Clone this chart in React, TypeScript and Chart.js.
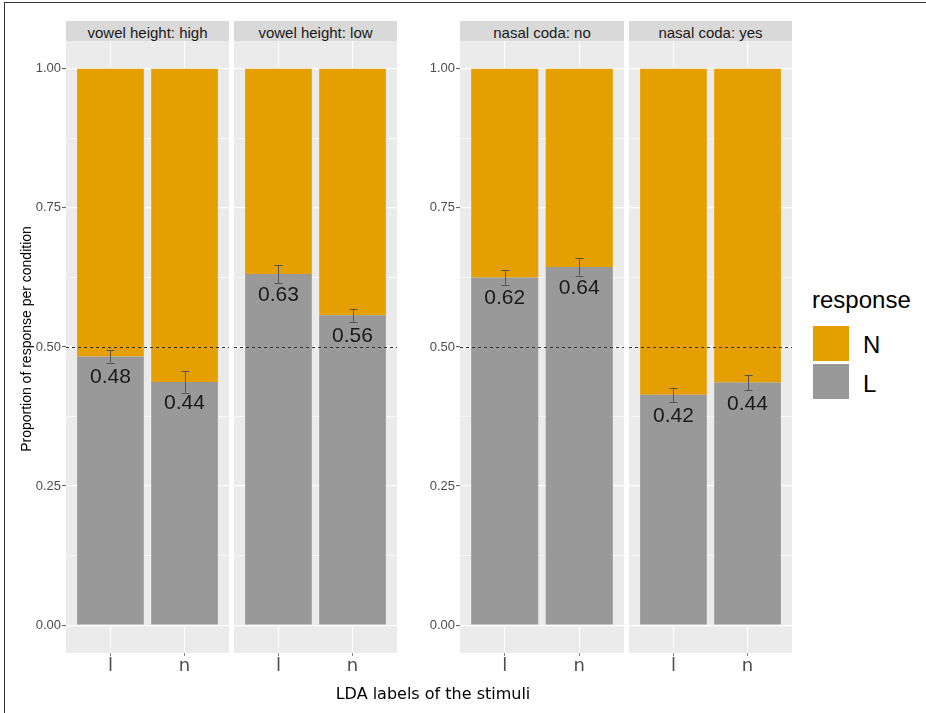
import React, { useEffect, useRef } from "react";
import { Chart, registerables } from "chart.js";

Chart.register(...registerables);

// ---- data ----
const categories = ["l", "n"];
const facetLabels = ["vowel height: high", "vowel height: low", "nasal coda: no", "nasal coda: yes"];
const responseLevels = ["N", "L"];

// proportion of "L" responses per stimulus label
const heightHighL = [0.483, 0.437];
const heightLowL = [0.631, 0.557];
const nasalNoL = [0.625, 0.644];
const nasalYesL = [0.414, 0.436];

// error bar half-widths
const heightHighErr = [0.011, 0.019];
const heightLowErr = [0.016, 0.012];
const nasalNoErr = [0.013, 0.016];
const nasalYesErr = [0.013, 0.014];

// printed value labels
const heightHighText = ["0.48", "0.44"];
const heightLowText = ["0.63", "0.56"];
const nasalNoText = ["0.62", "0.64"];
const nasalYesText = ["0.42", "0.44"];

const yTicks = [0, 0.25, 0.5, 0.75, 1];
const yTickLabels = ["0.00", "0.25", "0.50", "0.75", "1.00"];
const yMinorTicks = [0.125, 0.375, 0.625, 0.875];
const referenceLine = 0.5;

// ---- styles ----
const ORANGE = "#E69F00";
const GREY = "#999999";
const PANEL_BG = "#EBEBEB";
const STRIP_BG = "#D9D9D9";
const SANS = '"Liberation Sans", Arial, sans-serif';
const DEJAVU = '"DejaVu Sans", sans-serif';

const PANEL_TOP = 41;
const CANVAS_H = 644;
const X_AXIS_H = 32;

const isMajor = (v: number) => yTicks.some((t) => Math.abs(t - v) < 1e-9);

type PanelProps = {
  left: number;
  axisW: number;
  panelW: number;
  lVals: number[];
  errs: number[];
  texts: string[];
  showY: boolean;
};

function Panel({ left, axisW, panelW, lVals, errs, texts, showY }: PanelProps) {
  const ref = useRef<HTMLCanvasElement>(null);
  useEffect(() => {
    const canvas = ref.current!;
    const nVals = lVals.map((v) => 1 - v);

    const bgPlugin = {
      id: "panelBg",
      beforeDraw(chart: any) {
        const { ctx, chartArea: a } = chart;
        ctx.save();
        ctx.fillStyle = PANEL_BG;
        ctx.fillRect(a.left, a.top, a.right - a.left, a.bottom - a.top);
        ctx.restore();
      },
    };

    const overlayPlugin = {
      id: "overlay",
      afterDatasetsDraw(chart: any) {
        const { ctx, chartArea: a } = chart;
        const xs = chart.scales.x;
        const ys = chart.scales.y;
        ctx.save();
        // error bars
        ctx.strokeStyle = "#555555";
        ctx.lineWidth = 1;
        lVals.forEach((v, i) => {
          const cx = Math.round(xs.getPixelForValue(i + 1)) + 0.5;
          const y1 = ys.getPixelForValue(v - errs[i]);
          const y2 = ys.getPixelForValue(v + errs[i]);
          ctx.beginPath();
          ctx.moveTo(cx, y1);
          ctx.lineTo(cx, y2);
          ctx.moveTo(cx - 4, Math.round(y1) + 0.5);
          ctx.lineTo(cx + 4, Math.round(y1) + 0.5);
          ctx.moveTo(cx - 4, Math.round(y2) + 0.5);
          ctx.lineTo(cx + 4, Math.round(y2) + 0.5);
          ctx.stroke();
        });
        // value labels
        ctx.fillStyle = "#1A1A1A";
        ctx.font = `21px ${SANS}`;
        ctx.textAlign = "center";
        ctx.textBaseline = "alphabetic";
        lVals.forEach((v, i) => {
          ctx.fillText(texts[i], xs.getPixelForValue(i + 1), ys.getPixelForValue(v) + 27);
        });
        // dashed reference line
        ctx.strokeStyle = "#333333";
        ctx.lineWidth = 1;
        ctx.setLineDash([3, 3]);
        const yy = Math.round(ys.getPixelForValue(referenceLine)) + 0.5;
        ctx.beginPath();
        ctx.moveTo(a.left, yy);
        ctx.lineTo(a.right, yy);
        ctx.stroke();
        ctx.restore();
      },
    };

    const chart = new Chart(canvas, {
      type: "bar",
      data: {
        datasets: [
          {
            label: responseLevels[1],
            data: lVals.map((v, i) => ({ x: i + 1, y: v })),
            backgroundColor: GREY,
            borderWidth: 0,
            categoryPercentage: 1,
            barPercentage: 0.9,
          },
          {
            label: responseLevels[0],
            data: nVals.map((v, i) => ({ x: i + 1, y: v })),
            backgroundColor: ORANGE,
            borderWidth: 0,
            categoryPercentage: 1,
            barPercentage: 0.9,
          },
        ],
      } as any,
      options: {
        responsive: false,
        animation: false,
        devicePixelRatio: 1,
        layout: { padding: 0 },
        plugins: {
          legend: { display: false },
          tooltip: { enabled: false },
        },
        scales: {
          x: {
            type: "linear",
            min: 0.4,
            max: 2.6,
            stacked: true,
            offset: false,
            afterBuildTicks: (s: any) => {
              s.ticks = categories.map((_, i) => ({ value: i + 1 }));
            },
            afterFit: (s: any) => {
              s.height = X_AXIS_H;
              s.paddingLeft = 0;
              s.paddingRight = 0;
            },
            ticks: {
              autoSkip: false,
              maxRotation: 0,
              padding: 0,
              color: "#4D4D4D",
              font: { family: DEJAVU, size: 18 },
              callback: (v: any) => categories[Math.round(Number(v)) - 1] ?? "",
            },
            grid: {
              offset: false,
              color: "#FFFFFF",
              lineWidth: 1,
              drawTicks: true,
              tickLength: 3,
              tickColor: "#888888",
              tickWidth: 1,
            },
            border: { display: false },
          },
          y: {
            type: "linear",
            min: -0.05,
            max: 1.05,
            stacked: true,
            afterBuildTicks: (s: any) => {
              s.ticks = [...yTicks, ...yMinorTicks].sort((a, b) => a - b).map((v) => ({ value: v }));
            },
            afterFit: (s: any) => {
              s.width = axisW;
              s.paddingTop = 0;
              s.paddingBottom = 0;
            },
            ticks: {
              display: showY,
              autoSkip: false,
              padding: 1,
              color: "#4D4D4D",
              font: { family: SANS, size: 13 },
              callback: (v: any) => {
                const k = yTicks.findIndex((t) => Math.abs(t - Number(v)) < 1e-9);
                return k >= 0 ? yTickLabels[k] : "";
              },
            },
            grid: {
              color: "#FFFFFF",
              lineWidth: (c: any) => (c.tick && isMajor(c.tick.value) ? 1.2 : 0.6),
              drawTicks: showY,
              tickLength: 4,
              tickWidth: 1,
              tickColor: (c: any) => (c.tick && isMajor(c.tick.value) ? "#555555" : "rgba(0,0,0,0)"),
            },
            border: { display: false },
          },
        },
      } as any,
      plugins: [bgPlugin, overlayPlugin],
    });
    return () => chart.destroy();
  }, []);

  const w = axisW + panelW;
  return (
    <canvas
      ref={ref}
      width={w}
      height={CANVAS_H}
      style={{ position: "absolute", left: left - axisW, top: PANEL_TOP, width: w, height: CANVAS_H }}
    />
  );
}

function Strip({ left, width, text }: { left: number; width: number; text: string }) {
  return (
    <div
      style={{
        position: "absolute",
        left,
        top: 21,
        width,
        height: 20,
        background: STRIP_BG,
        color: "#1A1A1A",
        fontFamily: SANS,
        fontSize: 15,
        lineHeight: "20px",
        textAlign: "center",
        whiteSpace: "nowrap",
      }}
    >
      <span style={{ position: "relative", top: 1.5 }}>{text}</span>
    </div>
  );
}

export default function App() {
  const panels = [
    { left: 66, axisW: 36, panelW: 163, lVals: heightHighL, errs: heightHighErr, texts: heightHighText, showY: true },
    { left: 234, axisW: 0, panelW: 163, lVals: heightLowL, errs: heightLowErr, texts: heightLowText, showY: false },
    { left: 460, axisW: 40, panelW: 164, lVals: nasalNoL, errs: nasalNoErr, texts: nasalNoText, showY: true },
    { left: 629, axisW: 0, panelW: 163, lVals: nasalYesL, errs: nasalYesErr, texts: nasalYesText, showY: false },
  ];
  return (
    <div
      style={{
        position: "absolute",
        left: 0,
        top: 0,
        width: 926,
        height: 713,
        background: "#FFFFFF",
        overflow: "hidden",
      }}
    >
      <div
        style={{
          position: "absolute",
          left: 4,
          top: 2,
          width: 930,
          height: 720,
          borderLeft: "1.5px solid #333",
          borderTop: "1.5px solid #333",
        }}
      />
      {panels.map((p, i) => (
        <React.Fragment key={i}>
          <Strip left={p.left} width={p.panelW} text={facetLabels[i]} />
          <Panel {...p} />
        </React.Fragment>
      ))}
      <div
        style={{
          position: "absolute",
          left: 26 - 150,
          top: 339 - 7,
          width: 300,
          height: 14,
          lineHeight: "14px",
          fontFamily: SANS,
          fontSize: 14,
          color: "#000",
          textAlign: "center",
          whiteSpace: "nowrap",
          transform: "rotate(-90deg)",
          transformOrigin: "center",
        }}
      >
        Proportion of response per condition
      </div>
      <div
        style={{
          position: "absolute",
          left: 433 - 200,
          top: 685.5,
          width: 400,
          height: 16,
          lineHeight: "16px",
          fontFamily: DEJAVU,
          fontSize: 16,
          color: "#000",
          textAlign: "center",
          whiteSpace: "nowrap",
        }}
      >
        LDA labels of the stimuli
      </div>
      {/* legend */}
      <div
        style={{
          position: "absolute",
          left: 812,
          top: 288,
          lineHeight: "24px",
          fontFamily: SANS,
          fontSize: 24,
          color: "#000",
          whiteSpace: "nowrap",
        }}
      >
        response
      </div>
      <div style={{ position: "absolute", left: 813, top: 326, width: 36, height: 35, background: ORANGE }} />
      <div style={{ position: "absolute", left: 813, top: 364, width: 36, height: 35, background: GREY }} />
      <div
        style={{
          position: "absolute",
          left: 863,
          top: 333,
          lineHeight: "24px",
          fontFamily: SANS,
          fontSize: 24,
          color: "#000",
        }}
      >
        {responseLevels[0]}
      </div>
      <div
        style={{
          position: "absolute",
          left: 863,
          top: 372,
          lineHeight: "24px",
          fontFamily: SANS,
          fontSize: 24,
          color: "#000",
        }}
      >
        {responseLevels[1]}
      </div>
    </div>
  );
}
